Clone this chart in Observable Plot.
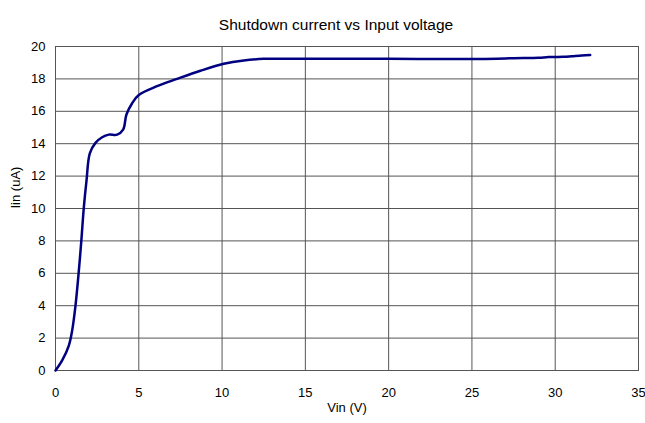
<!DOCTYPE html>
<html>
<head>
<meta charset="utf-8">
<script src="https://cdn.jsdelivr.net/npm/d3@7"></script>
<script src="https://cdn.jsdelivr.net/npm/@observablehq/plot@0.6"></script>
<style>
  html, body { margin: 0; padding: 0; background: #fff; }
  #chart svg { display: block; }
</style>
</head>
<body>
<div id="chart"></div>
<script>
const title = "Shutdown current vs Input voltage";
const xLabel = "Vin (V)";
const yLabel = "Iin (uA)";
const xTicks = [0, 5, 10, 15, 20, 25, 30, 35];
const yTicks = [0, 2, 4, 6, 8, 10, 12, 14, 16, 18, 20];

const vin = [0, 0.4, 0.8, 1.0, 1.2, 1.4, 1.55, 1.7, 1.86, 2.06, 2.4, 2.8, 3.2, 3.7, 4.06, 4.26, 4.6, 5.0, 6.1, 7.3, 8.7, 10.1, 11.3, 12.5, 15, 20, 25, 26.5, 27.5, 29, 29.6, 30.5, 31, 31.6, 32.1];
const iin = [0, 0.62, 1.54, 2.46, 4.0, 6.15, 8.0, 10.05, 11.7, 13.4, 14.05, 14.4, 14.56, 14.56, 14.87, 15.8, 16.5, 17.0, 17.55, 18.0, 18.5, 18.93, 19.14, 19.24, 19.24, 19.24, 19.23, 19.25, 19.28, 19.3, 19.35, 19.36, 19.4, 19.45, 19.47];

const data = vin.map((v, i) => ({vin: v, iin: iin[i]}));

const chart = Plot.plot({
  width: 645,
  height: 423,
  marginLeft: 55,
  marginRight: 7,
  marginTop: 46,
  marginBottom: 53,
  style: {fontFamily: "'Liberation Sans', Arial, sans-serif", fontSize: "13px", color: "#000", background: "#fff"},
  x: {domain: [0, 35], ticks: xTicks, tickSize: 0, tickPadding: 17, label: null},
  y: {domain: [0, 20], ticks: yTicks, tickSize: 0, tickPadding: 10, label: null},
  marks: [
    Plot.gridX(xTicks, {stroke: "#555", strokeOpacity: 1, strokeWidth: 1}),
    Plot.gridY(yTicks, {stroke: "#555", strokeOpacity: 1, strokeWidth: 1}),
    Plot.frame({stroke: "#555"}),
    Plot.line(data, {x: "vin", y: "iin", stroke: "#000080", strokeWidth: 2.5, curve: "catmull-rom"}),
    Plot.text([title], {frameAnchor: "top", dy: -28, dx: -11, fontSize: 15.5, fill: "#000"}),
    Plot.text([xLabel], {frameAnchor: "bottom", dy: 41, fontSize: 13, fill: "#000"}),
    Plot.text([yLabel], {frameAnchor: "left", dx: -40, rotate: -90, fontSize: 13, fill: "#000"})
  ]
});
document.getElementById("chart").appendChild(chart);
</script>
</body>
</html>
